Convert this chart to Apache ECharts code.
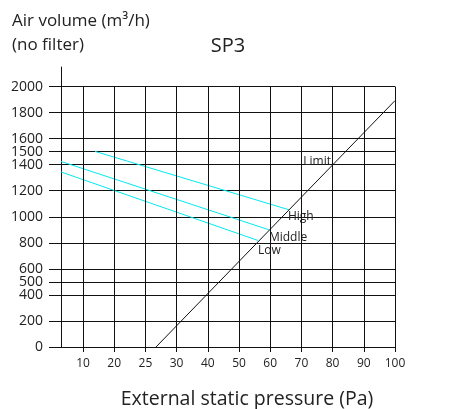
<!DOCTYPE html>
<html><head><meta charset="utf-8">
<script src="https://cdn.jsdelivr.net/npm/echarts@6/dist/echarts.min.js"></script>
<style>html,body{margin:0;padding:0;background:#fff}#c{width:458px;height:409px}</style>
</head><body><div id="c"></div>
<script>
// x positions: evenly spaced gridlines; tick labels as printed on the chart
var xTickPos = [1,2,3,4,5,6,7,8,9,10,11];
var xTickLabels = ['10','20','25','30','40','50','60','70','80','90','100'];
var yTicks = [0,200,400,500,600,800,1000,1200,1400,1500,1600,1800,2000];
var highData = [[1.385,1502],[7.60,1054]];
var middleData = [[0.295,1425],[6.96,900]];
var lowData = [[0.295,1344],[6.61,818]];
var limitData = [[3.34,0],[11,1892]];
var limitLabelAt = [8.98,1393];

var font = '"Open Sans", "DejaVu Sans", sans-serif';
var chart = echarts.init(document.getElementById('c'), null, {renderer:'canvas'});
var vLines = xTickPos.map(function(p){ return [{coord:[p,0]},{coord:[p,2000]}]; });
var cyan = '#00e8ee';
function curve(name, data, off){
  return {type:'line', name:name, data:data, symbol:'none', silent:true,
    lineStyle:{color:cyan, width:1},
    endLabel:{show:true, formatter:name, distance:0, offset:off, color:'#222', fontFamily:font, fontSize:12}};
}
chart.setOption({
  animation:false,
  grid:{left:61, right:63, top:67, bottom:62},
  xAxis:{type:'value', min:0.295, max:11,
    axisLine:{show:true, lineStyle:{color:'#111', width:1}},
    axisTick:{show:true, customValues:xTickPos, length:5, lineStyle:{color:'#111'}},
    axisLabel:{customValues:xTickPos, formatter:function(v){ var i=xTickPos.indexOf(v); return i>=0?xTickLabels[i]:''; }, color:'#222', fontFamily:font, fontSize:12, margin:11},
    splitLine:{show:false}},
  yAxis:{type:'value', min:0, max:2150,
    axisLine:{show:true, lineStyle:{color:'#111', width:1}},
    axisTick:{show:true, customValues:yTicks, length:12, lineStyle:{color:'#111'}},
    axisLabel:{customValues:yTicks, formatter:function(v){ return String(v); }, color:'#222', fontFamily:font, fontSize:14, margin:18},
    splitLine:{show:true, lineStyle:{color:'#111', width:1}}},
  graphic:[
    {type:'text', x:12, y:21, style:{text:'Air volume (m³/h)', fill:'#222', font:'17px '+font, textVerticalAlign:'middle'}},
    {type:'text', x:12, y:45, style:{text:'(no filter)', fill:'#222', font:'17px '+font, textVerticalAlign:'middle'}},
    {type:'text', x:228, y:46, style:{text:'SP3', fill:'#222', font:'20px '+font, textAlign:'center', textVerticalAlign:'middle'}},
    {type:'text', x:247, y:399, style:{text:'External static pressure (Pa)', fill:'#222', font:'19.5px '+font, textAlign:'center', textVerticalAlign:'middle'}}
  ],
  series:[
    {type:'line', data:[], silent:true, markLine:{silent:true, symbol:'none', label:{show:false}, lineStyle:{color:'#111', width:1, type:'solid'}, data:vLines}},
    curve('High', highData, [-1,7]),
    curve('Middle', middleData, [0,8]),
    curve('Low', lowData, [0,10]),
    {type:'line', name:'Limit', silent:true, symbol:'none', lineStyle:{color:'#111', width:1}, data:limitData,
      markPoint:{silent:true, symbol:'circle', symbolSize:0, data:[{coord:limitLabelAt}],
        label:{show:true, position:'left', distance:1, offset:[0,-4], formatter:'Limit', color:'#222', fontFamily:font, fontSize:12}}}
  ]
});
</script></body></html>
